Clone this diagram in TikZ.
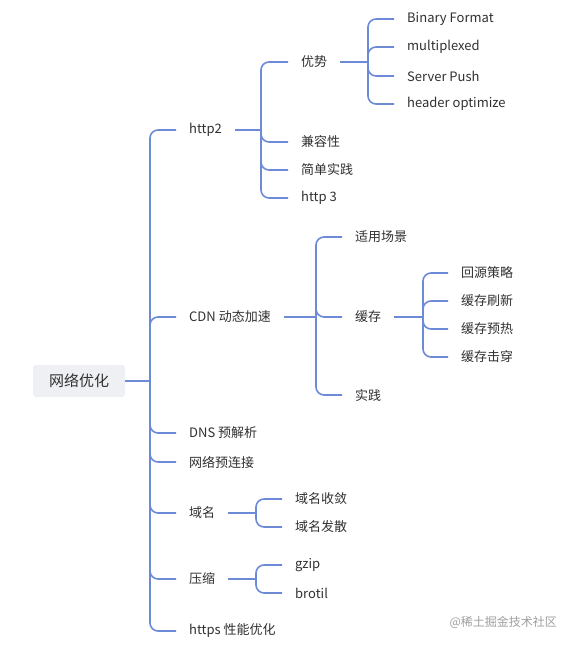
\documentclass[tikz,border=0pt]{standalone}
\usepackage{fontspec}
\setmainfont{Noto Sans CJK SC}
\usepackage{tikz}
\usepackage{xcolor}
\definecolor{linkblue}{HTML}{6D8AD6}
\definecolor{txt}{HTML}{303030}
\definecolor{rootfill}{HTML}{EEF0F3}

\begin{document}
\begin{tikzpicture}[x=1pt,y=-1pt,font=\fontsize{13}{15}\selectfont,
  item/.style={anchor=west,inner xsep=13pt,inner ysep=2pt,text=txt},
  rootbox/.style={fill=rootfill,rounded corners=3pt,minimum width=92pt,minimum height=32pt,text=txt,font=\fontsize{15}{17}\selectfont},
  link/.style={linkblue,line width=1.6pt,rounded corners=8pt},
  wmark/.style={anchor=west,text=black!38,font=\fontsize{12}{14}\selectfont}]
\useasboundingbox (0,0) rectangle (573,647);

\node[rootbox] (root) at (79,381) {网络优化};

\node[item] (http2) at (176,130) {http2};
\node[item] (cdn) at (176,317) {CDN 动态加速};
\node[item] (dns) at (176,433) {DNS 预解析};
\node[item] (pre) at (176,462) {网络预连接};
\node[item] (domain) at (176,513) {域名};
\node[item] (zip) at (176,579) {压缩};
\node[item] (https) at (176,631) {https 性能优化};

\node[item] (adv) at (288,62) {优势};
\node[item] (compat) at (288,142) {兼容性};
\node[item] (simple) at (288,170) {简单实践};
\node[item] (http3) at (288,198) {http 3};

\node[item] (binary) at (394,19) {Binary Format};
\node[item] (multi) at (394,47) {multiplexed};
\node[item] (push) at (394,76) {Server Push};
\node[item] (header) at (394,104) {header optimize};

\node[item] (scene) at (342,237) {适用场景};
\node[item] (cache) at (342,317) {缓存};
\node[item] (practice) at (342,395) {实践};

\node[item] (origin) at (448,273) {回源策略};
\node[item] (refresh) at (448,301) {缓存刷新};
\node[item] (warm) at (448,329) {缓存预热};
\node[item] (pierce) at (448,357) {缓存击穿};

\node[item] (merge) at (282,499) {域名收敛};
\node[item] (split) at (282,527) {域名发散};

\node[item] (gzip) at (282,565) {gzip};
\node[item] (brotil) at (282,593) {brotil};

\coordinate (j-root) at (150,381);
\coordinate (j-http2) at (261,130);
\coordinate (j-adv) at (368,62);
\coordinate (j-cdn) at (316,317);
\coordinate (j-cache) at (423,317);
\coordinate (j-domain) at (256,513);
\coordinate (j-zip) at (256,579);

\draw[link] (root.east) -- (j-root);
\foreach \n in {http2,cdn,dns,pre,domain,zip,https}
  \draw[link] (j-root) |- (\n.west);

\draw[link] (http2.east) -- (j-http2);
\foreach \n in {adv,compat,simple,http3}
  \draw[link] (j-http2) |- (\n.west);

\draw[link] (adv.east) -- (j-adv);
\foreach \n in {binary,multi,push,header}
  \draw[link] (j-adv) |- (\n.west);

\draw[link] (cdn.east) -- (j-cdn);
\foreach \n in {scene,cache,practice}
  \draw[link] (j-cdn) |- (\n.west);

\draw[link] (cache.east) -- (j-cache);
\foreach \n in {origin,refresh,warm,pierce}
  \draw[link] (j-cache) |- (\n.west);

\draw[link] (domain.east) -- (j-domain);
\foreach \n in {merge,split}
  \draw[link] (j-domain) |- (\n.west);

\draw[link] (zip.east) -- (j-zip);
\foreach \n in {gzip,brotil}
  \draw[link] (j-zip) |- (\n.west);

\node[wmark] (site) at (446,622) {@稀土掘金技术社区};
\end{tikzpicture}
\end{document}
